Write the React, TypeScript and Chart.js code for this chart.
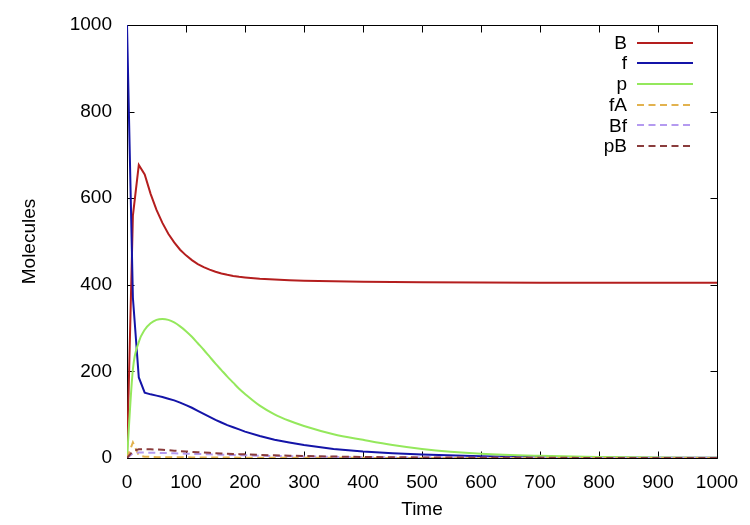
import React, { useEffect, useRef } from 'react';
import { Chart, registerables } from 'chart.js';

Chart.register(...registerables);

const times = [0, 10, 20, 30, 40, 50, 60, 70, 80, 90, 100, 110, 120, 130, 140, 150, 160, 170, 180, 190, 200, 225, 250, 275, 300, 350, 400, 450, 500, 600, 700, 800, 900, 1000];

const seriesB = [0, 560, 677, 655, 610, 573, 543, 518, 498, 481, 468, 457, 448, 441, 435, 430, 426, 423, 420.5, 418.5, 417, 414, 412, 410.5, 409.5, 408, 407, 406.5, 406, 405.5, 405, 405, 405, 405];
const seriesF = [1000, 370, 186, 151, 147, 144, 141, 137, 133, 128, 122, 116, 109, 102, 95, 88, 82, 76, 71, 66, 61, 51, 42, 36, 30, 21, 15, 11, 8, 4, 2, 1, 0.5, 0.3];
const seriesP = [0, 205, 268, 296, 311, 319, 321, 319, 313, 304, 293, 280, 265, 250, 234, 218, 203, 188, 174, 160, 148, 121, 101, 86, 74, 55, 42, 30, 21, 10, 5, 2.5, 1.2, 0.6];
const seriesFA = [0, 36, 6, 3, 2.5, 2, 2, 1.8, 1.7, 1.6, 1.5, 1.4, 1.3, 1.2, 1.1, 1, 1, 0.9, 0.9, 0.8, 0.8, 0.7, 0.6, 0.5, 0.5, 0.4, 0.3, 0.2, 0.2, 0.1, 0.1, 0, 0, 0];
const seriesBf = [0, 11, 12.5, 12.5, 12.3, 12, 11.6, 11.2, 10.8, 10.4, 10, 9.6, 9.2, 8.8, 8.4, 8, 7.6, 7.2, 6.9, 6.5, 6.2, 5.4, 4.7, 4.1, 3.6, 2.7, 2, 1.5, 1.1, 0.6, 0.3, 0.2, 0.1, 0.1];
const seriesPB = [0, 16, 20, 20.5, 20, 19.5, 19, 18, 17, 16, 15, 14.2, 13.4, 12.6, 11.9, 11.2, 10.6, 10, 9.4, 8.9, 8.4, 7.2, 6.2, 5.3, 4.6, 3.4, 2.5, 1.8, 1.3, 0.7, 0.4, 0.2, 0.1, 0.1];

const seriesNames = ['B', 'f', 'p', 'fA', 'Bf', 'pB'];
const seriesValues = [seriesB, seriesF, seriesP, seriesFA, seriesBf, seriesPB];
const seriesColors = ['#b41e1e', '#1414a8', '#94e85c', '#e2b24e', '#b49af0', '#8a3c3c'];
const seriesDashed = [false, false, false, true, true, true];
const seriesSmooth = [false, false, true, false, false, false];

const xTicks = [0, 100, 200, 300, 400, 500, 600, 700, 800, 900, 1000];
const yTicks = [0, 200, 400, 600, 800, 1000];

const FONT = '"Liberation Sans", Arial, Helvetica, sans-serif';
const FONT_SIZE = 19;

const framePlugin = {
  id: 'frameAndLegend',
  beforeDatasetsDraw(chart: any) {
    const { ctx, chartArea: a, scales } = chart;
    ctx.save();
    ctx.strokeStyle = '#000';
    ctx.lineWidth = 1;
    const L = Math.round(a.left) + 0.5;
    const R = Math.round(a.right) + 0.5;
    const T = Math.round(a.top) + 0.5;
    const B = Math.round(a.bottom) + 0.5;
    ctx.beginPath();
    ctx.rect(L, T, R - L, B - T);
    const tl = 7;
    xTicks.forEach((v) => {
      const x = Math.round(scales.x.getPixelForValue(v)) + 0.5;
      ctx.moveTo(x, B);
      ctx.lineTo(x, B - tl);
      ctx.moveTo(x, T);
      ctx.lineTo(x, T + tl);
    });
    yTicks.forEach((v) => {
      const y = Math.round(scales.y.getPixelForValue(v)) + 0.5;
      ctx.moveTo(L, y);
      ctx.lineTo(L + tl, y);
      ctx.moveTo(R, y);
      ctx.lineTo(R - tl, y);
    });
    ctx.stroke();
    ctx.restore();
  },
  afterDatasetsDraw(chart: any) {
    const { ctx, chartArea: a } = chart;
    ctx.save();
    ctx.font = `${FONT_SIZE}px ${FONT}`;
    ctx.textAlign = 'right';
    ctx.textBaseline = 'middle';
    const textX = a.right - 90;
    const lineX0 = a.right - 80;
    const lineX1 = a.right - 24;
    seriesNames.forEach((name, i) => {
      const y = a.top + 17.5 + i * 20.7;
      ctx.fillStyle = '#000';
      ctx.fillText(name, textX, y + 1);
      ctx.strokeStyle = seriesColors[i];
      ctx.lineWidth = 2;
      ctx.setLineDash(seriesDashed[i] ? [7, 4.5] : []);
      ctx.beginPath();
      ctx.moveTo(lineX0, Math.round(y));
      ctx.lineTo(lineX1, Math.round(y));
      ctx.stroke();
    });
    ctx.restore();
  },
};

export default function App() {
  const ref = useRef<HTMLCanvasElement>(null);

  useEffect(() => {
    if (!ref.current) return;
    const datasets = seriesNames.map((name, i) => ({
      label: name,
      data: times.map((t, k) => ({ x: t, y: seriesValues[i][k] })),
      borderColor: seriesColors[i],
      backgroundColor: seriesColors[i],
      borderWidth: 2,
      borderDash: seriesDashed[i] ? [7, 4.5] : [],
      pointRadius: 0,
      tension: 0,
      cubicInterpolationMode: seriesSmooth[i] ? 'monotone' : 'default',
      fill: false,
      order: seriesNames.length - i,
    }));
    const chart = new Chart(ref.current, {
      type: 'line',
      data: { datasets } as any,
      options: {
        animation: false,
        responsive: false,
        maintainAspectRatio: false,
        layout: { padding: { top: 25, right: 33, bottom: 0, left: 0 } },
        plugins: {
          legend: { display: false },
          tooltip: { enabled: false },
        },
        scales: {
          x: {
            type: 'linear',
            min: 0,
            max: 1000,
            afterFit: (s: any) => {
              s.height = 67;
            },
            afterBuildTicks: (s: any) => {
              s.ticks = xTicks.map((v) => ({ value: v }));
            },
            ticks: {
              color: '#000',
              font: { family: FONT, size: FONT_SIZE },
              padding: 5,
              maxRotation: 0,
              autoSkip: false,
              callback: (v: any) => String(v),
            },
            grid: { display: false },
            border: { display: false },
            title: {
              display: true,
              text: 'Time',
              color: '#000',
              font: { family: FONT, size: FONT_SIZE },
              padding: { top: 0, bottom: 4 },
            },
          },
          y: {
            type: 'linear',
            min: 0,
            max: 1000,
            afterFit: (s: any) => {
              s.width = 127;
            },
            afterBuildTicks: (s: any) => {
              s.ticks = yTicks.map((v) => ({ value: v }));
            },
            ticks: {
              color: '#000',
              font: { family: FONT, size: FONT_SIZE },
              padding: 7,
              autoSkip: false,
              callback: (v: any) => String(v),
            },
            grid: { display: false },
            border: { display: false },
            title: {
              display: true,
              text: 'Molecules',
              color: '#000',
              font: { family: FONT, size: FONT_SIZE },
              padding: { top: 18, bottom: 0 },
            },
          },
        },
      },
      plugins: [framePlugin],
    });
    return () => chart.destroy();
  }, []);

  return (
    <div style={{ position: 'absolute', left: 0, top: 0, width: 750, height: 525, background: '#fff' }}>
      <canvas ref={ref} width={750} height={525} style={{ display: 'block' }} />
    </div>
  );
}
